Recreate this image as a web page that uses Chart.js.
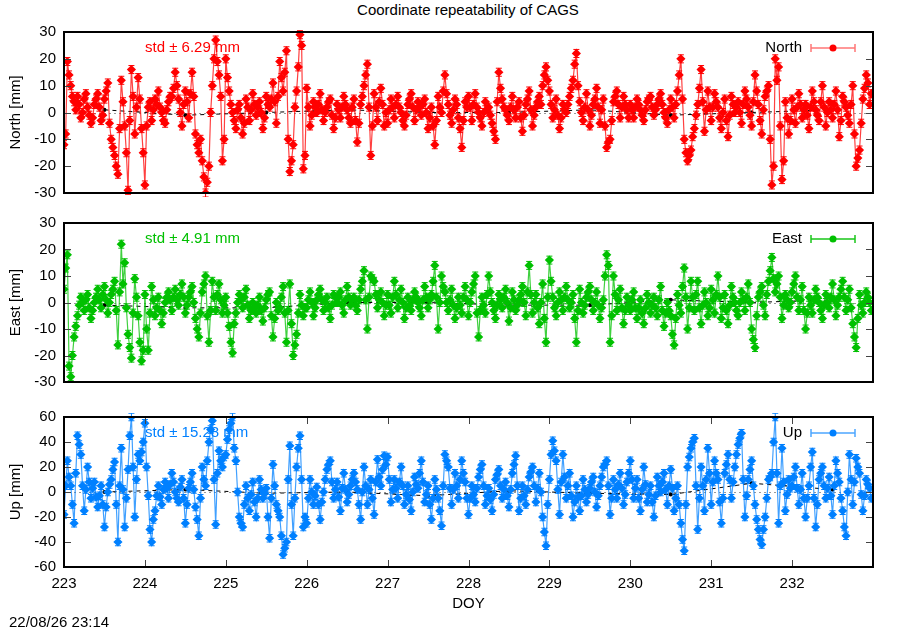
<!DOCTYPE html>
<html>
<head>
<meta charset="utf-8">
<script src="https://cdn.jsdelivr.net/npm/chart.js@4.4.0/dist/chart.umd.min.js"></script>
<style>
  body { margin: 0; background: #fff; width: 900px; height: 630px; position: relative; overflow: hidden;
         font-family: "Liberation Sans", Arial, sans-serif; }
  .panel { position: absolute; left: 0; width: 900px; }
  .txt { position: absolute; font-size: 15px; color: #000; white-space: nowrap; line-height: 17px; }
</style>
</head>
<body>
<div class="txt" style="left:0;width:936px;text-align:center;top:1px">Coordinate repeatability of CAGS</div>
<div class="panel" style="top:0;height:215px"><canvas id="north" width="900" height="215"></canvas></div>
<div class="panel" style="top:200px;height:200px"><canvas id="east" width="900" height="200"></canvas></div>
<div class="panel" style="top:400px;height:230px"><canvas id="up" width="900" height="230"></canvas></div>
<div class="txt" style="left:9px;top:613px">22/08/26 23:14</div>

<script>
/* epochs: every 30 min, starting DOY 223.0 */
const FIRST_DOY = 223;
const EPOCHS_PER_DAY = 48;
const doyTicks = [223, 224, 225, 226, 227, 228, 229, 230, 231, 232];

/* NORTH residuals [mm], two rows per day */
const north = [
  -12, -8, 19, 14, 10, 6, 4, 1, 6, 3, -2, 0, 5, 7, 2, -1, -4, -2, 3, 5, 7, 2, -3, -1,
  5, 8, 11, -4, -10, -13, -16, -20, -23, -6, 12, 4, -5, -15, -29, -3, 16, 6, -8, 2, 13, 5, -6, -15,
  -27, -5, 2, 4, -3, 1, 5, 3, 8, 2, 0, -3, -4, 1, 4, 6, 6, 9, 15, 10, 5, 0, -5, 3,
  8, 4, -2, 7, 15, 6, -8, -12, -15, -10, -18, -24, -30, -26, -20, 0, 10, 20, 27, 19, 14, 6, -18, -10,
  20, 13, 8, 3, 0, -3, -6, 1, 3, -2, -8, -4, 5, 2, -3, 1, 7, 3, -1, 2, 4, 0, -6, -2,
  6, 3, 2, 5, 11, 4, -4, 6, 19, 13, 8, 15, 23, -10, -22, -18, -12, 2, 8, 17, 29, 25, -21, -16,
  9, 2, -5, -1, 4, 2, 0, 3, 7, 1, -3, 0, 2, 4, 5, -1, -6, -2, 3, 1, -2, 2, 6, 3,
  1, -2, -4, 2, 5, -3, -11, -4, 3, 6, 10, 14, 18, 2, -16, -5, 7, 2, -3, 4, 9, 3, -5, 0,
  -4, 1, 5, 2, -2, 3, 6, 2, 0, -3, -5, -1, 3, 5, 7, 2, -3, 1, 4, 2, -1, 3, 5, 0,
  -6, -2, 2, -5, -12, -3, 6, 2, 0, 8, 14, 7, 3, -1, -4, 1, 5, 3, -2, -6, -13, -3, 4, 2,
  6, 2, -3, 3, 7, 2, 0, -2, -5, 0, 4, 1, 2, -1, -4, -7, -10, 4, 15, 9, 5, 2, 1, -1,
  -3, 2, 6, 1, -2, 2, 4, -2, -7, -1, 3, 5, 8, 1, -5, -1, 2, 4, 6, 3, 10, 14, 17, 12,
  8, 3, -2, 1, 5, -1, -6, -2, 3, 1, 0, 3, 6, 9, 12, 18, 22, 10, 4, 0, -3, 2, 7, 1,
  -5, -1, 3, 5, 9, 2, -4, 1, 5, -5, -13, -11, -10, -3, 4, 6, 8, 3, -2, 2, 6, 3, 1, -2,
  3, 1, -2, 2, 5, 3, 1, -1, -3, 1, 4, 5, 6, 2, -1, 1, 3, 5, 7, 3, 0, -2, -4, 1,
  5, 2, -2, 3, 8, 14, 20, 5, -10, -15, -18, -16, -14, -9, -6, -1, 3, 9, 16, 4, -7, 1, 8, 2,
  -3, 2, 7, 4, 2, -2, -6, 0, 5, -3, -9, -1, 6, 3, 0, 2, 4, 0, -4, 3, 8, 5, 2, -1,
  -5, 4, 14, 8, 3, -3, -8, 1, 6, 8, 10, -10, -27, -20, 20, 12, 17, -5, -25, -18, 4, -2, -8, -3,
  5, 1, -4, 2, 7, 3, -2, 1, 3, -1, -6, 2, 8, 4, 1, -1, -3, 4, 10, 2, -5, 0, 4, 1,
  -2, 3, 8, 1, -9, -3, 6, 4, 2, -1, -4, 3, 10, -8, -20, -17, -14, -4, 5, 9, 14, 11, 3, 7
];

/* EAST residuals [mm] */
const east = [
  5, 13, 18, -24, -28, -20, -13, -9, -5, -1, 2, 0, -3, 1, 3, -2, -6, -3, 0, 2, 5, 1, -2, 3,
  6, 1, -4, 0, 3, 5, 8, -3, -16, 4, 22, 7, 15, -2, -12, -17, -21, -4, 9, 2, -5, -15, -22, -18,
  3, -10, -18, -4, 6, 1, -5, -2, 2, -3, -8, -4, 0, 2, 4, 1, -3, 2, 5, 1, -1, 3, 7, 2,
  -4, -1, 2, 4, 6, 0, -6, -10, -13, -4, 4, 7, 10, -5, -15, -3, 8, 2, -3, 3, 7, 1, -4, -1,
  2, -4, -9, -15, -19, -8, -4, 0, 3, 1, -2, 2, 5, -1, -6, -3, 0, -2, -4, -1, 2, -3, -7, -2,
  1, 3, 4, -5, -13, -6, 0, -3, -2, 2, 6, -4, -15, -3, 7, -8, -20, -16, -12, -4, 3, -1, -5, -2,
  -2, 1, 4, 0, -5, -2, 1, 3, 5, 1, -3, 0, 2, -2, -6, -1, 3, 2, 0, 2, 4, -1, -4, 1,
  6, 2, -1, 1, 2, -1, -3, 1, 5, 8, 12, 1, -10, 2, 10, 9, 8, 3, -2, 1, 4, 0, -5, -1,
  3, -1, -4, 2, 8, 3, -2, 1, 5, 0, -6, -2, 2, -1, -3, 1, 4, 2, 0, -2, -5, 1, 6, 2,
  -2, 1, 3, 8, 14, 2, -10, 0, 10, 6, 4, 0, -3, 1, 5, -1, -6, -2, 2, -1, -4, 2, 6, 1,
  -5, 0, 4, 7, 10, -4, -13, -3, 2, -1, -4, 3, 10, 4, 0, -3, -6, -1, 3, 1, -2, 2, 5, 0,
  -7, -2, 4, 1, -3, -1, 1, 3, 6, 0, -5, 4, 14, 3, -4, 0, 3, -2, -8, 0, 7, -6, -15, 2,
  16, 8, 2, -2, -5, 0, 4, 1, -3, 2, 6, 1, -2, 0, 3, -6, -15, -3, 5, 0, -4, -1, 2, 4,
  6, 1, -3, 0, 4, -1, -6, -2, 1, 10, 18, 14, -15, -5, 10, 3, -3, 1, 5, -2, -8, -3, 2, -1,
  -3, 1, 4, -2, -6, -2, 1, -4, -8, -2, 3, 0, -4, -1, 2, -2, -5, 1, 6, -3, -9, -4, 0, -3,
  -5, -12, -16, -6, 3, -1, -4, 6, 13, 2, -10, -2, 8, 2, -3, 3, 8, -2, -8, -1, 4, 0, -5, -2,
  5, 1, -4, 3, 10, 2, -6, -2, 3, -3, -8, -1, 6, 2, 0, -3, -5, 0, 4, 1, -3, 2, 7, 0,
  -10, -14, -17, -5, 2, 4, 6, -1, -5, 3, 8, 12, 17, 9, 4, 7, 10, 2, -6, -1, 3, 1, -2, 0,
  4, 7, 10, 2, -3, 1, 6, -3, -10, -4, 2, -1, -4, 1, 5, 2, 0, -3, -6, -1, 3, 0, -2, 2,
  7, 1, -5, -1, 2, 5, 8, 2, -3, 1, 5, -2, -8, -13, -17, -6, 3, -1, -4, 0, 4, 2, 0, -3
];

/* UP residuals [mm] */
const up = [
  -18, 5, 25, 12, 5, -10, -25, 15, 45, 38, 30, 5, -15, 2, 20, 8, -5, 3, 8, -4, -12, -3, 5, -10,
  -28, -12, 0, 6, 10, 18, 24, -10, -40, 5, 35, 2, -28, -5, 18, 45, 60, 20, -20, 10, 30, 25, 32, 40,
  55, 20, -3, -30, -40, -22, -15, -3, 5, -4, -10, 2, 8, 3, -5, 6, 15, 8, 0, -5, -8, 4, 10, -5,
  -25, -10, 3, 8, 15, 2, -12, -22, -35, -5, 20, 10, 5, 25, 40, 50, 57, 10, -26, 15, 33, 25, 20, 28,
  30, 42, 50, 55, 60, 35, 25, 0, -20, -25, -28, -10, 5, -5, -15, -2, 8, -8, -20, -5, 10, 2, -5, -1,
  3, -20, -37, -5, 22, 5, -10, -15, -20, -35, -50, -45, -40, 10, 37, -10, -35, -5, 20, 35, 45, 10, -28, -20,
  -25, -5, 10, 0, -10, -3, 4, -10, -22, -8, 0, 10, 18, 22, 25, 8, -5, 2, 8, -4, -15, 3, 15, 2,
  -8, -2, 5, 10, 15, 8, 2, -10, -22, 0, 20, 5, -10, 2, 10, -5, -18, 8, 26, 12, 5, 18, 29, 22,
  28, 10, -8, 2, 10, 3, -5, 8, 20, 5, -10, -2, 5, -6, -15, 0, 12, 6, 3, 15, 25, 8, -8, -2,
  5, -10, -22, -5, 10, 2, -5, -15, -27, 5, 30, 25, 20, 3, -10, 2, 15, 5, -5, 10, 25, 15, 8, -5,
  -18, -5, 5, -2, -8, 3, 12, 18, 22, 5, -10, -3, 3, -6, -15, -2, 10, 14, 18, 5, -5, 2, 8, -3,
  -12, 2, 15, 22, 29, 5, -15, -5, 5, -3, -10, 2, 12, 16, 20, 5, -8, 3, 15, 0, -20, -32, -43, -10,
  10, 30, 41, 33, 25, 2, -18, 8, 30, 12, -5, 5, 15, -3, -20, -8, 5, -4, -15, -3, 10, 2, -8, -2,
  3, 8, 12, 0, -12, -3, 5, 12, 20, 22, 25, 5, -18, -5, 10, 2, -5, 6, 15, 3, -10, -2, 8, 15,
  25, 10, -5, 3, 10, -5, -15, 2, 20, 6, -8, -2, 5, -8, -20, -3, 12, 5, 0, 8, 15, 2, -10, 5,
  18, 3, -15, -5, 5, -10, -25, -38, -47, -10, 20, 28, 35, 40, 43, 5, -30, -5, 20, 5, -15, 10, 35, 15,
  -10, 8, 25, 15, 10, -8, -25, -5, 15, 22, 30, 10, -5, 8, 20, 30, 38, 43, 47, 10, -20, -3, 10, 18,
  25, 5, -10, -22, -30, -38, -42, -30, -20, -5, 10, 12, 15, 40, 60, 15, -25, 5, 35, 8, -15, -2, 10, 3,
  5, 12, 20, 3, -10, 2, 15, -5, -20, -5, 5, 20, 32, -5, -28, -10, 10, 15, 20, 5, -5, 3, 12, -3,
  -18, 5, 25, 15, 8, -5, -15, -28, -35, 0, 30, 10, -10, 8, 27, 20, 15, -2, -15, -3, 10, 6, 3, -5
];

/* formal errors drawn as y error bars [mm], one per component */
const sigmaNorth = 1.5;
const sigmaEast = 1.5;
const sigmaUp = 3;

/* daily solutions (black dashed), at noon of each DOY */
const northDaily = [1, -1, 0, 1, 0, 0, 1, -1, 0, 1];
const eastDaily = [-1, -2, -2, 0, 0, -1, -1, 1, 0, 1];
const upDaily = [0, 2, -1, 0, -3, 1, -1, -2, 7, 2];

const stdText = ["std \u00b1 6.29 mm", "std \u00b1 4.91 mm", "std \u00b1 15.28 mm"];

Chart.defaults.font.family = '"Liberation Sans", Arial, sans-serif';
Chart.defaults.font.size = 15;
Chart.defaults.color = "#000";

const toPts = vals => vals.map((v, i) => ({ x: FIRST_DOY + i / EPOCHS_PER_DAY, y: v }));
const toDaily = vals => vals.map((v, i) => ({ x: doyTicks[i] + 0.5, y: v }));

/* gnuplot-like frame, inward ticks, zero axis, key, std label and error bars */
const gnuFrame = {
  id: "gnuFrame",
  beforeDatasetsDraw(chart, args, o) {
    const { ctx, chartArea: a, scales: { x, y } } = chart;
    ctx.save();
    // zero axis
    const y0 = Math.round(y.getPixelForValue(0)) + 0.5;
    ctx.strokeStyle = "#999";
    ctx.lineWidth = 1;
    ctx.setLineDash([2, 3]);
    ctx.beginPath(); ctx.moveTo(a.left, y0); ctx.lineTo(a.right, y0); ctx.stroke();
    ctx.setLineDash([]);

    const ty = a.top + 16;
    ctx.font = '15px "Liberation Sans", Arial, sans-serif';
    ctx.textBaseline = "middle";
    ctx.fillStyle = o.color;
    ctx.textAlign = "left";
    ctx.fillText(o.std, a.left + 81, ty);

    // key
    ctx.fillStyle = "#000";
    ctx.textAlign = "right";
    ctx.fillText(o.label, a.right - 71, ty);
    const x0 = a.right - 62, x1 = a.right - 18;
    ctx.strokeStyle = o.keyLine;
    ctx.lineWidth = 1.5;
    ctx.beginPath();
    ctx.moveTo(x0, ty); ctx.lineTo(x1, ty);
    ctx.moveTo(x0, ty - 4); ctx.lineTo(x0, ty + 4);
    ctx.moveTo(x1, ty - 4); ctx.lineTo(x1, ty + 4);
    ctx.stroke();
    ctx.fillStyle = o.color;
    ctx.beginPath(); ctx.arc((x0 + x1) / 2, ty, 3.5, 0, Math.PI * 2); ctx.fill();

    // y error bars of the main series
    ctx.beginPath();
    ctx.rect(a.left, a.top - 4, a.right - a.left, a.bottom - a.top + 8);
    ctx.clip();
    ctx.strokeStyle = o.color;
    ctx.lineWidth = 1;
    ctx.beginPath();
    chart.data.datasets[0].data.forEach(pt => {
      const px = x.getPixelForValue(pt.x);
      const yt = y.getPixelForValue(pt.y + o.sigma), yb = y.getPixelForValue(pt.y - o.sigma);
      ctx.moveTo(px, yt); ctx.lineTo(px, yb);
      ctx.moveTo(px - 3, yt); ctx.lineTo(px + 3, yt);
      ctx.moveTo(px - 3, yb); ctx.lineTo(px + 3, yb);
    });
    ctx.stroke();
    ctx.restore();
  },
  afterDatasetsDraw(chart, args, o) {
    const { ctx, chartArea: a, scales: { x, y } } = chart;
    ctx.save();
    ctx.strokeStyle = "#444";
    ctx.lineWidth = 1;
    ctx.beginPath();
    y.ticks.forEach(t => {
      const py = Math.round(y.getPixelForValue(t.value)) + 0.5;
      ctx.moveTo(a.left, py); ctx.lineTo(a.left + 7, py);
      ctx.moveTo(a.right - 7, py); ctx.lineTo(a.right, py);
    });
    if (o.xTicks) {
      x.ticks.forEach(t => {
        const px = Math.round(x.getPixelForValue(t.value)) + 0.5;
        ctx.moveTo(px, a.bottom); ctx.lineTo(px, a.bottom - 7);
        ctx.moveTo(px, a.top); ctx.lineTo(px, a.top + 7);
      });
    }
    ctx.stroke();
    ctx.strokeStyle = "#000";
    ctx.lineWidth = 2;
    ctx.strokeRect(a.left, a.top, a.right - a.left, a.bottom - a.top);
    ctx.restore();
  }
};

function makePanel(id, vals, daily, p) {
  return new Chart(document.getElementById(id), {
    type: "line",
    data: {
      datasets: [
        {
          data: toPts(vals),
          borderColor: p.line,
          borderWidth: 1.2,
          pointStyle: "rectRot",
          pointRadius: 4.6,
          pointBorderWidth: 0,
          pointBackgroundColor: p.color,
          order: 1
        },
        {
          data: toDaily(daily),
          borderColor: "#000",
          borderWidth: 1,
          borderDash: [4, 4],
          pointRadius: 2,
          pointBackgroundColor: "#000",
          pointBorderWidth: 0,
          order: 2
        }
      ]
    },
    options: {
      responsive: false,
      animation: false,
      events: [],
      layout: { padding: { left: 0, right: 27, top: p.padTop, bottom: p.padBottom } },
      plugins: {
        legend: { display: false },
        tooltip: { enabled: false },
        gnuFrame: { color: p.color, keyLine: p.keyLine, label: p.label, std: p.std, xTicks: p.showX, sigma: p.sigma }
      },
      scales: {
        x: {
          type: "linear",
          min: 223,
          max: 233,
          grid: { display: false, drawTicks: false },
          border: { display: false },
          ticks: {
            display: p.showX,
            stepSize: 1,
            padding: 8,
            maxRotation: 0,
            callback: v => (v >= 233 ? "" : v)
          },
          title: { display: p.showX, text: "DOY", padding: { top: 0, bottom: 17 } },
          afterFit: s => { s.height = p.xHeight; }
        },
        y: {
          min: p.yMin,
          max: p.yMax,
          grid: { display: false, drawTicks: false },
          border: { display: false },
          ticks: { stepSize: p.yStep, padding: 8 },
          title: { display: true, text: p.yTitle, padding: { top: 7, bottom: 0 } },
          afterFit: s => { s.width = 64; }
        }
      }
    },
    plugins: [gnuFrame]
  });
}

makePanel("north", north, northDaily, {
  color: "#ff0000", line: "rgba(255,0,0,0.75)", keyLine: "rgba(255,60,60,0.7)",
  label: "North", std: stdText[0], yTitle: "North [mm]", sigma: sigmaNorth,
  yMin: -30, yMax: 30, yStep: 10, padTop: 32, padBottom: 22, showX: false, xHeight: 0
});
makePanel("east", east, eastDaily, {
  color: "#00c000", line: "rgba(0,192,0,0.75)", keyLine: "rgba(0,192,0,0.9)",
  label: "East", std: stdText[1], yTitle: "East [mm]", sigma: sigmaEast,
  yMin: -30, yMax: 30, yStep: 10, padTop: 23, padBottom: 18, showX: false, xHeight: 0
});
makePanel("up", up, upDaily, {
  color: "#0080ff", line: "rgba(0,128,255,0.75)", keyLine: "rgba(0,128,255,0.7)",
  label: "Up", std: stdText[2], yTitle: "Up [mm]", sigma: sigmaUp,
  yMin: -60, yMax: 60, yStep: 20, padTop: 13, padBottom: 0, showX: true, xHeight: 63
});
</script>
</body>
</html>
